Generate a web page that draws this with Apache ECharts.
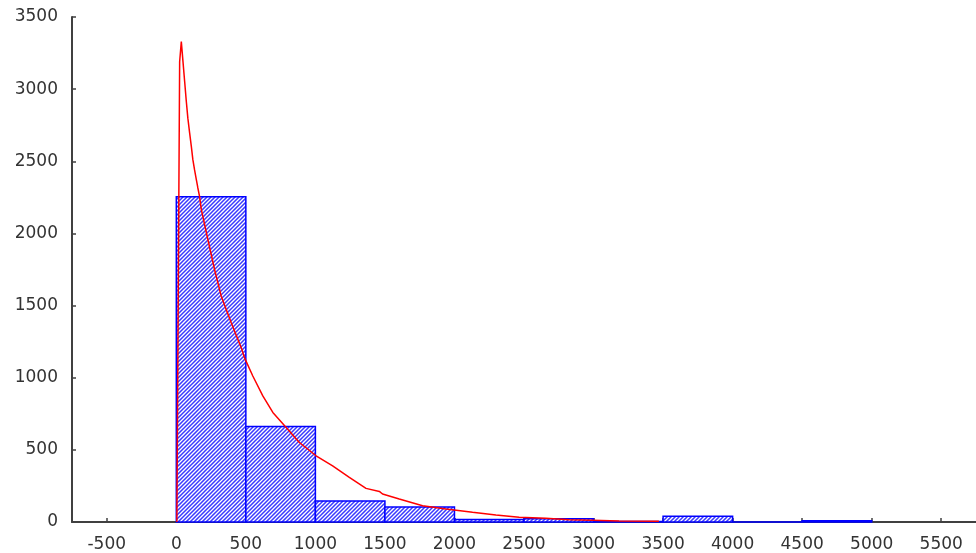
<!DOCTYPE html>
<html>
<head>
<meta charset="utf-8">
<script src="https://cdn.jsdelivr.net/npm/echarts@6/dist/echarts.min.js"></script>
<style>
html,body{margin:0;padding:0;background:#fff;}
#c{width:976px;height:553px;}
</style>
</head>
<body>
<div id="c"></div>
<script>
// Histogram bins: [start, end]
const binStarts = [0, 500, 1000, 1500, 2000, 2500, 3000, 3500, 4000, 4500];
const binEnds   = [500, 1000, 1500, 2000, 2500, 3000, 3500, 4000, 4500, 5000];
const binCounts = [2255, 662, 145, 104, 17, 22, 4, 39, 0, 8];

// Fitted density curve
const curveX = [4, 24, 36, 48, 60, 72, 83, 96, 108, 119, 131, 144, 155, 167, 180, 227, 275, 323, 395, 471, 490, 550, 622, 694, 790, 885, 1005, 1124, 1244, 1364, 1460, 1483, 1603, 1771, 1939, 2130, 2298, 2465, 2657, 2824, 2991, 3183, 3470];
const curveY = [0, 3190, 3329, 3191, 3053, 2914, 2799, 2695, 2603, 2511, 2442, 2373, 2315, 2257, 2165, 1958, 1750, 1565, 1381, 1197, 1139, 1012, 874, 759, 655, 551, 459, 389, 309, 233, 212, 194, 159, 113, 90, 67, 48, 33, 26, 16, 12, 7, 5];

const xTicks = [-500, 0, 500, 1000, 1500, 2000, 2500, 3000, 3500, 4000, 4500, 5000, 5500];
const yTicks = [0, 500, 1000, 1500, 2000, 2500, 3000, 3500];

// hatch pattern ("/" stripes)
const T = 8;
const pc = document.createElement('canvas');
pc.width = T; pc.height = T;
const g = pc.getContext('2d');
g.fillStyle = '#ffffff';
g.fillRect(0, 0, T, T);
g.strokeStyle = '#3a3aff';
g.lineWidth = 1.5;
g.beginPath();
for (let k = -2; k <= 4; k++) {
  const o = k * 4;
  g.moveTo(o - 2, T + 2);
  g.lineTo(o + T + 2, -2);
}
g.stroke();

const barData = binStarts.map((s, i) => [s, binEnds[i], binCounts[i]]);
const lineData = curveX.map((x, i) => [x, curveY[i]]);

const chart = echarts.init(document.getElementById('c'), null, {renderer: 'canvas'});
const labelStyle = {color: '#333', fontFamily: 'DejaVu Sans', fontSize: 17, formatter: v => String(v)};
chart.setOption({
  animation: false,
  backgroundColor: '#ffffff',
  grid: {left: 72, right: 0, top: 17, bottom: 30, containLabel: false},
  xAxis: {
    type: 'value', min: -750, max: 5750,
    splitLine: {show: false},
    axisLine: {show: true, onZero: false, lineStyle: {color: '#404040', width: 2}},
    axisTick: {show: true, inside: true, length: 4, customValues: xTicks, lineStyle: {color: '#404040', width: 1.5}},
    axisLabel: Object.assign({margin: 14, customValues: xTicks}, labelStyle)
  },
  yAxis: {
    type: 'value', min: 0, max: 3500, interval: 500,
    splitLine: {show: false},
    axisLine: {show: true, onZero: false, lineStyle: {color: '#404040', width: 2}},
    axisTick: {show: true, inside: true, length: 4, lineStyle: {color: '#404040', width: 1.5}},
    axisLabel: Object.assign({margin: 14, customValues: yTicks}, labelStyle)
  },
  series: [
    {
      type: 'custom',
      z: 2,
      data: barData,
      encode: {x: [0, 1], y: 2},
      renderItem: function (params, api) {
        const p0 = api.coord([api.value(0), api.value(2)]);
        const p1 = api.coord([api.value(1), 0]);
        return {
          type: 'rect',
          shape: {x: p0[0], y: p0[1], width: p1[0] - p0[0], height: p1[1] - p0[1]},
          style: {fill: {image: pc, repeat: 'repeat'}, stroke: '#0000ff', lineWidth: 1.5}
        };
      }
    },
    {
      type: 'line',
      z: 3,
      data: lineData,
      showSymbol: false,
      symbol: 'none',
      lineStyle: {color: '#ff0000', width: 1.5},
      silent: true
    }
  ]
});
</script>
</body>
</html>
